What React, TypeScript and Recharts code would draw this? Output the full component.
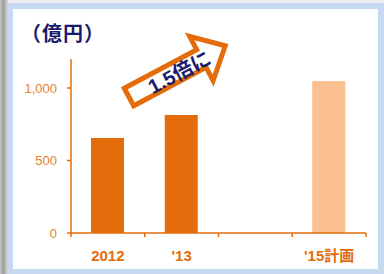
import React from "react";
import { BarChart, Bar, XAxis, YAxis, Cell } from "recharts";

const categories = ["2012", "'13", "", "'15計画"];
const values = [655, 814, null, 1048];
const planned = [false, false, false, true];
const yTicks = [0, 500, 1000];

const W = 384;
const H = 274;
const LEFT = 71;
const RIGHT = 18;
const TOP = 59;
const XAXIS_H = 41;
const BAND = (W - LEFT - RIGHT) / categories.length;
const AXIS_Y = H - XAXIS_H;

const ORANGE = "#E46C0A";
const LIGHT = "#FAC090";
const NAVY = "#1B1B6E";

const data = categories.map((name, i) => ({ name, value: values[i], planned: planned[i] }));

const fmt = (v: number) => v.toLocaleString("en-US");

// Excel-style ticks sit between categories, so draw them from the label tick
const XTick = ({ x, payload, index }: any) => (
  <g>
    <line x1={x - BAND / 2} x2={x - BAND / 2} y1={AXIS_Y} y2={AXIS_Y + 4} stroke={ORANGE} strokeWidth={1.5} />
    {index === categories.length - 1 && (
      <line x1={x + BAND / 2} x2={x + BAND / 2} y1={AXIS_Y} y2={AXIS_Y + 4} stroke={ORANGE} strokeWidth={1.5} />
    )}
    <text
      x={x}
      y={AXIS_Y + 28}
      textAnchor="middle"
      fill={ORANGE}
      fontSize={15}
      fontWeight="bold"
      fontFamily="'Liberation Sans', 'Noto Sans CJK JP', sans-serif"
    >
      {payload.value}
    </text>
  </g>
);

export default function App() {
  return (
    <div style={{ position: "relative", width: W, height: H, background: "#ececec", overflow: "hidden" }}>
      <style>{"body{margin:0}"}</style>
      <div
        style={{
          position: "absolute",
          left: 0,
          top: 0,
          width: 8,
          bottom: 0,
          background: "linear-gradient(to right, #c8c8c8, #9a9a9a 40%, #d8d8d8)",
        }}
      />
      <div style={{ position: "absolute", left: 8, top: 3, right: 0, bottom: 0, background: "#C6D9F1" }} />
      <div style={{ position: "absolute", left: 13, top: 9, right: 6, bottom: 5, background: "#ffffff" }} />
      <div style={{ position: "absolute", left: 0, top: 0 }}>
        <BarChart width={W} height={H} data={data} margin={{ top: TOP, right: RIGHT, bottom: 0, left: 0 }}>
          <YAxis
            width={LEFT}
            domain={[0, 1200]}
            ticks={yTicks}
            tickFormatter={fmt}
            axisLine={{ stroke: ORANGE, strokeWidth: 1.5 }}
            tickLine={{ stroke: ORANGE, strokeWidth: 1.5 }}
            tickSize={4}
            tickMargin={10}
            tick={{ fill: "#EA812E", fontSize: 13, fontFamily: "'Liberation Sans', sans-serif" }}
          />
          <XAxis
            dataKey="name"
            height={XAXIS_H}
            axisLine={{ stroke: ORANGE, strokeWidth: 1.5 }}
            tickLine={false}
            interval={0}
            tick={<XTick />}
          />
          <Bar dataKey="value" barSize={33} isAnimationActive={false}>
            {data.map((d, i) => (
              <Cell key={`cell-${i}`} fill={d.planned ? LIGHT : ORANGE} />
            ))}
          </Bar>
        </BarChart>
      </div>
      <svg width={W} height={H} style={{ position: "absolute", left: 0, top: 0, pointerEvents: "none" }}>
        <text
          x={21}
          y={41}
          fill={NAVY}
          fontSize={20}
          fontWeight="bold"
          letterSpacing={1}
          fontFamily="'Noto Sans CJK JP', sans-serif"
        >
          （億円）
        </text>
        <g transform="translate(129,97) rotate(-28)">
          <polygon
            points="0,-10 82,-10 82,-25 109,0 82,25 82,10 0,10"
            fill="#ffffff"
            stroke={ORANGE}
            strokeWidth={5}
            strokeLinejoin="miter"
          />
          <text
            x={56}
            y={2}
            textAnchor="middle"
            dominantBaseline="central"
            fill={NAVY}
            fontSize={20}
            fontWeight="bold"
            fontFamily="'Liberation Sans', 'Noto Sans CJK JP', sans-serif"
          >
            1.5倍に
          </text>
        </g>
      </svg>
    </div>
  );
}
